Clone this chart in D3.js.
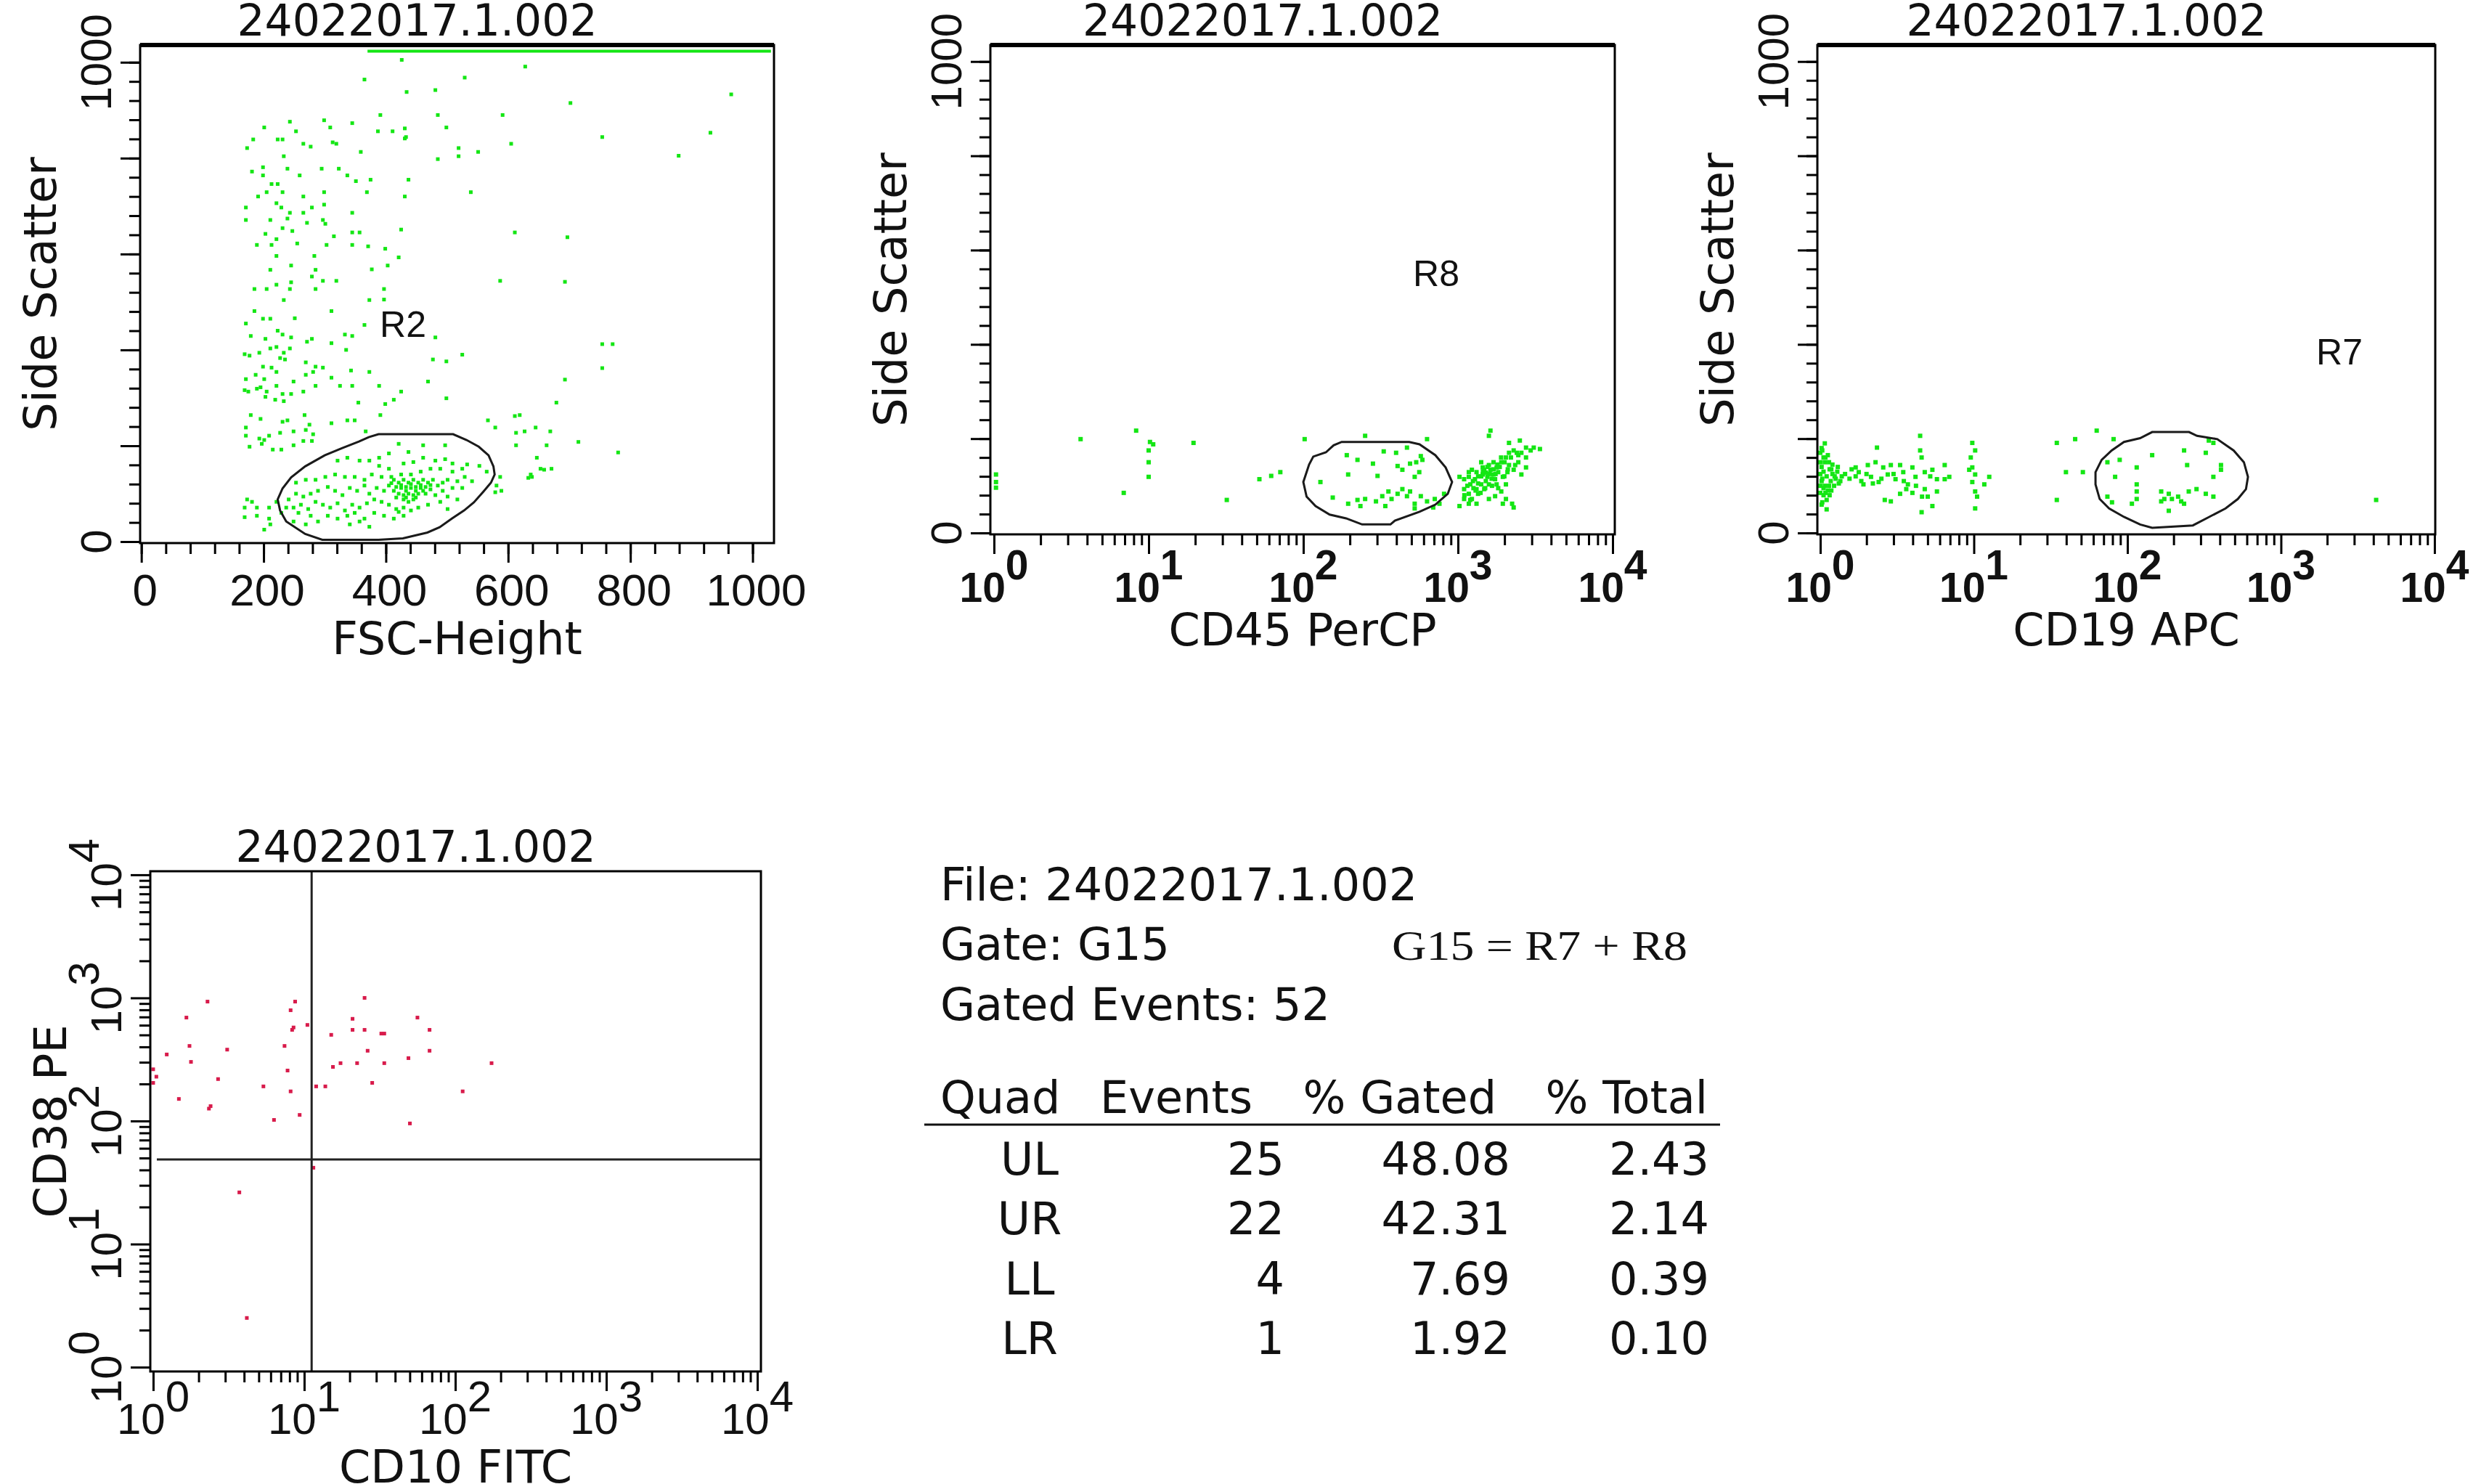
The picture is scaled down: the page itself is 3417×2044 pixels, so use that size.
<!DOCTYPE html>
<html>
<head>
<meta charset="utf-8">
<script src="https://cdn.jsdelivr.net/npm/d3@7"></script>
<style>
  body { margin: 0; background: #fff; overflow: hidden; }
  text { fill: #111; }
</style>
</head>
<body>
<div id="chart"></div>
<script>
// ---- data ----
var fileName = "24022017.1.002";

// panel 1: FSC-Height vs Side Scatter (linear channels)
var fscSsc = [
  [391,890],[485,890],[591,890],[243,876],[299,879],[201,864],[253,856],[309,864],[345,873],[387,856],[411,856],[431,862],[431,841],[499,864],[223,839],[231,839],[183,839],[313,833],[319,830],[265,830],[277,824],[173,821],[359,813],[233,804],[519,821],[519,804],[551,813],[605,830],[485,798],[433,844],
  [181,772],[199,781],[199,764],[239,778],[259,764],[295,778],[323,778],[337,764],[351,752],[375,755],[437,755],[213,746],[223,746],[205,729],[191,720],[231,729],[265,720],[299,729],[369,729],[431,720],[539,729],[221,706],[229,697],[243,686],[265,686],[279,697],[299,703],[345,686],[171,697],[171,671],[211,671],[239,674],[271,665],[297,671],[301,663],
  [231,654],[247,648],[203,642],[221,631],[315,637],[345,645],[357,645],[425,651],[611,645],[189,619],[213,619],[255,622],[303,619],[345,619],[371,616],[399,611],[421,593],[221,596],[283,596],[245,576],[211,567],[285,567],[377,568],[403,576],[279,553],[297,544],[319,544],[587,544],[185,527],[205,527],[221,536],[245,541],[243,527],[285,527],[397,527],[373,504],[397,505],[233,504],
  [185,481],[311,481],[171,455],[199,465],[211,465],[251,466],[365,452],[179,429],[203,423],[223,440],[231,432],[245,426],[271,417],[279,423],[311,414],[333,432],[345,429],[481,426],[169,391],[177,388],[193,394],[211,403],[221,406],[233,394],[243,403],[199,365],[213,363],[227,383],[235,380],[269,374],[285,365],[297,363],[335,400],[477,380],[499,376],[525,390],[171,339],[187,348],[201,339],[221,354],[249,334],[269,348],[281,354],[311,342],[343,357],[373,354],[469,334],
  [169,316],[175,313],[189,319],[195,322],[205,313],[221,325],[231,308],[203,302],[219,296],[233,293],[245,308],[265,313],[285,325],[325,325],[345,325],[389,325],[425,313],[355,290],[399,287],[413,296],[499,299],[679,290],[179,264],[195,256],[231,250],[239,253],[267,264],[275,244],[311,247],[337,253],[349,253],[391,264],[567,253],[579,238],[619,264],[171,238],[171,221],[193,215],[201,212],[209,221],[227,227],[249,230],[269,233],[281,224],[367,230],[613,227],[645,238],[627,230],[669,230],[177,198],[197,204],[215,192],[229,192],[249,201],[265,210],[279,210],
  [613,201],[663,201],[647,175],[671,152],[639,135],[587,135],[579,103],[541,126],[525,152],[497,201],[461,201],[437,187],[421,204],[405,184],[389,175],[373,169],[357,169],[337,175],[321,169],[389,158],[405,152],[429,163],[445,166],[461,175],[481,169],[497,172],[509,163],[533,161],[553,158],[565,146],[509,146],[489,152],[473,152],[457,146],[441,140],[425,140],[409,135],[393,135],[377,140],[365,129],[349,135],[333,135],[317,140],[301,135],[285,129],[269,129],[253,123],
  [413,129],[421,123],[429,129],[437,123],[445,129],[453,123],[461,129],[469,123],[477,129],[417,114],[425,112],[433,114],[441,112],[449,114],[457,112],[465,114],[473,109],[421,100],[429,97],[437,100],[445,97],[453,100],[429,88],[437,83],[445,88],[413,106],[405,117],[485,117],[493,123],[501,129],[517,126],[529,135],[493,106],[509,112],[525,112],[481,97],[501,94],[517,88],
  [425,118],[433,106],[441,120],[449,106],[457,118],[417,92],[433,92],[449,92],[465,100],[461,106],[409,122],[473,118],
  [397,106],[385,112],[373,100],[365,117],[353,106],[341,112],[329,97],[317,106],[305,114],[289,106],[277,100],[265,94],[253,100],[241,88],[249,71],[261,77],[273,68],[285,83],[297,77],[309,71],[321,80],[333,65],[345,77],[357,71],[369,80],[381,88],[393,83],[405,77],[417,68],[429,71],[441,65],[453,71],[469,77],[489,83],[501,68],[337,54],[349,60],[365,48],[381,60],[397,54],[413,48],[429,54],[321,48],[305,54],[289,42],[277,54],[257,60],[269,36],[249,42],[237,71],[229,60],[221,83],[209,71],[209,48],[211,36],[201,25],[189,54],[173,88],[181,83],[169,71],[169,51],[189,71],[341,36],[357,42],[373,31],[421,62],[581,117],[589,106],[637,140],[653,152],
  [365,964],[426,1005],[481,942],[529,968],[628,991],[702,915],[965,933],[434,938],[754,844],[931,853],[879,805],[697,635],[693,542],[754,412],[771,412],[754,362],[693,338],[715,208],[780,186],[633,133],[659,150],[611,262]
];
// events piled up on the top channel
var saturatedRuns = [[370, 1030]];
var saturatedLevel = 1023;
var gateR2 = [[388,224],[510,224],[532,212],[552,198],[568,180],[576,157],[578,140],[572,123],[560,105],[544,82],[528,65],[508,48],[488,30],[468,19],[428,7],[388,4],[296,4],[268,16],[237,42],[227,65],[223,88],[231,111],[245,134],[268,157],[300,180],[328,195],[356,209],[372,218]];
var labelR2 = [428, 455];

// panel 2: CD45 PerCP (log) vs Side Scatter
var cd45Ssc = [
  [1.03,124],[1.03,108],[1.03,96],[3.63,199],[8.3,217],[10.2,193],[10.7,188],[10,175],[10,150],[10,119],[19.5,191],[6.9,85],[32,70],[52,114],[62,121],[71,129],[102,199],[251,206],
  [191,165],[224,155],[282,147],[331,173],[398,170],[468,181],[575,163],[631,199],[407,142],[437,134],[490,147],[537,150],[589,155],[562,129],[525,119],
  [302,121],[195,124],[129,108],[155,75],[195,62],[224,70],[251,72],[295,67],[324,78],[355,88],[372,72],[407,83],[437,93],[468,78],[490,88],[525,62],[575,78],[631,67],[708,72],[759,62],[813,83],[525,52],[339,57],[234,57],[692,54],
  [1023,57],[1096,72],[1175,83],[1096,93],[1202,103],[1288,114],[1175,119],[1318,93],[1413,103],[1445,124],[1479,134],[1585,144],[1698,124],[1778,139],[1905,150],[1738,114],[1585,103],[1479,93],[1349,83],[1230,72],[2042,160],[2138,170],[2291,175],[2455,165],[2570,170],[2754,160],[2951,175],[3090,181],[3388,178],[2138,144],[2291,134],[2455,150],[2089,129],[1950,119],[1778,103],[1905,88],[1738,78],[2239,62],[2291,54],[1622,217],[1585,206],[2138,191],[2754,139],[2570,124],[1820,129],[1622,134],[1549,119],[1445,139],[1318,129],[1230,134],[1175,62],[1318,62],[1585,72],[2042,103],[2344,144],[2754,181],[2512,196],[1096,114],[1023,119],[1175,129],[1413,150],[2042,72],[1950,62],
  [1413,120],[1514,110],[1660,100],[1349,105],[1862,140],[1698,150],[1514,128],[1259,95],[1995,120],[1820,95],
  [1150,100],[1250,110],[1350,120],[1450,130],[1600,125],[1700,135],[1800,145],[1900,160],[2000,150],[2200,160],[2400,170],[1300,90],[1400,85],[1500,95],[1650,115],[1750,125],[1100,80],[1200,70],[1550,140],[2100,135]
];
var gateR8 = [[177,193],[484,193],[564,188],[714,165],[832,139],[916,108],[859,83],[714,60],[564,45],[391,26],[366,18],[240,18],[189,31],[148,39],[120,57],[105,77],[100,108],[109,145],[116,162],[140,171],[157,186]];
var labelR8 = [723, 552];

// panel 3: CD19 APC (log) vs Side Scatter
var cd19Ssc = [
  [1.02,180],[1.05,160],[1.02,140],[1.07,150],[1.05,130],[1.10,120],[1.02,110],[1.07,100],[1.12,90],[1.05,80],[1.10,70],[1.02,60],[1.15,135],[1.20,125],[1.17,110],[1.23,100],[1.26,115],[1.32,105],[1.12,165],[1.07,190],[1.15,80],[1.20,145],[1.29,130],[1.38,120],[1.05,95],[1.10,50],
  [1.0,170],[1.0,150],[1.0,125],[1.0,100],[1.0,85],[1.03,175],[1.03,115],[1.03,65],[1.08,160],[1.08,85],[1.14,150],[1.14,100],[1.18,135],[1.18,90],[1.24,120],[1.3,140],[1.35,110],[1.45,125],[1.55,115],[1.6,135],[1.7,120],[1.85,110],[2.0,125],[2.2,105],[2.5,115],[3.0,125],[3.5,110],[4.2,100],[5.2,120],
  [2.34,181],[4.47,206],[4.47,175],[4.57,160],[2.04,144],[2.29,150],[2.57,139],[2.88,144],[3.31,144],[3.47,129],[3.98,139],[4.17,119],[4.79,129],[5.37,134],[5.75,114],[6.46,144],[6.92,119],[3.09,114],[2.75,124],[2.40,108],[2.14,119],[1.91,103],[1.78,129],[1.70,139],[3.72,103],[4.79,93],[5.01,77],[5.75,88],[4.6,77],[5.37,57],[4.57,44],[2.88,67],[2.63,70],
  [9.77,191],[10.2,175],[9.55,160],[9.77,139],[10.2,124],[9.77,108],[10.2,88],[10.5,77],[10.2,52],[12.6,119],[11.7,103],[9.33,134],[3.31,83],[3.98,85],[3.63,93],[6.46,114],
  [34.7,191],[39.8,129],[34.7,70],[51.3,129],[63.1,217],[45.7,199],[81.3,199],
  [74.1,150],[89.1,155],[115,139],[145,165],[234,175],[245,144],[324,170],[339,196],[363,191],[407,144],[407,134],[363,119],[83.2,119],[115,103],[74.1,77],[115,88],[166,88],[186,83],[195,72],[224,67],[234,62],[214,77],[251,88],[282,93],[324,83],[363,77],[174,72],[166,67],[107,62],[115,72],[186,47],[79.4,65],
  [4169,70]
];
var gateR7 = [[145,214],[252,214],[284,206],[385,199],[492,175],[574,150],[610,119],[592,93],[524,72],[436,52],[341,34],[267,16],[145,11],[121,18],[95,34],[76,52],[66,72],[62,103],[62,129],[68,155],[79,175],[95,193],[121,201]];
var labelR7 = [2404, 385];

// panel 4: CD10 FITC vs CD38 PE, gated on G15
var cd10Cd38 = [
  [1.0,263],[1.0,204],[1.23,347],[1.48,151],[1.66,692],[1.74,407],[1.78,302],[2.29,933],[2.34,126],[2.4,132],[2.69,219],[3.09,380],[5.37,191],[6.31,102],[7.41,407],[7.76,257],[8.13,174],[8.32,550],[8.13,794],[8.71,933],[9.33,112],[10.5,603],[1.05,229],[8.5,575],
  [12.0,191],[13.8,191],[15.1,501],[15.5,275],[17.4,295],[20.9,676],[20.9,550],[22.4,295],[25.1,1000],[25.1,550],[26.3,372],[28.2,204],[32.4,513],[33.9,513],[33.9,295],[49,324],[50.1,95.5],[56.2,692],[67.6,550],[67.6,372],[112,174],[174,295],
  [3.72,26.3],[4.17,2.51],[11.5,41.7]
];
var quadCut = [11.2, 48.7];

// statistics block
var quadNames = ["UL", "UR", "LL", "LR"];
var quadEvents = [25, 22, 4, 1];
var quadPctGated = [48.08, 42.31, 7.69, 1.92];
var quadPctTotal = [2.43, 2.14, 0.39, 0.10];
var gateName = "G15";
var gatedEvents = 52;
var gateFormula = "G15 = R7 + R8";

// ---- drawing ----
var W = 3417, H = 2044;
var green = "#14e614", red = "#d81b4b";
var sansTitle = "DejaVu Sans", sansTick = "Liberation Sans";

var svg = d3.select("#chart").append("svg")
    .attr("width", W)
    .attr("height", H)
    .style("background", "#fff");

// linear channel ticks every 40, long ones every 200
var linMinor = d3.range(0, 1001, 40);
var linMajor = d3.range(0, 1001, 200);
var logMajor = [1, 10, 100, 1000, 10000];
var logMinor = [];
[1, 10, 100, 1000].forEach(function(d) {
    for (var k = 2; k < 10; k++) logMinor.push(d * k);
});

// frames in page pixels, and the visible channel range of each axis
var panels = [
    {box: [193, 62, 1066, 748], xType: "lin", yType: "lin", xDom: [-2, 1035], yDom: [-3, 1036],
     xTitle: "FSC-Height", yTitle: "Side Scatter", thickTop: true},
    {box: [1364, 62, 2224, 736], xType: "log", yType: "lin", xDom: [Math.pow(10, -0.0235), Math.pow(10, 4.014)], yDom: [-3, 1035],
     xTitle: "CD45 PerCP", yTitle: "Side Scatter", thickTop: true, boldLog: true},
    {box: [2503, 62, 3354, 736], xType: "log", yType: "lin", xDom: [Math.pow(10, -0.019), Math.pow(10, 4.005)], yDom: [-3, 1035],
     xTitle: "CD19 APC", yTitle: "Side Scatter", thickTop: true, boldLog: true},
    {box: [207, 1200, 1048, 1889], xType: "log", yType: "log", xDom: [Math.pow(10, -0.019), Math.pow(10, 4.024)], yDom: [Math.pow(10, -0.035), Math.pow(10, 4.029)],
     xTitle: "CD10 FITC", yTitle: "CD38 PE", thickTop: false, boldLog: false}
];

panels.forEach(function(p) {
    var l = p.box[0], t = p.box[1], r = p.box[2], b = p.box[3];
    p.x = (p.xType == "log" ? d3.scaleLog() : d3.scaleLinear()).domain(p.xDom).range([l, r]);
    p.y = (p.yType == "log" ? d3.scaleLog() : d3.scaleLinear()).domain(p.yDom).range([b, t]);
    p.g = svg.append("g");
});

function drawAxes(p) {
    var l = p.box[0], t = p.box[1], r = p.box[2], b = p.box[3];
    var g = p.g;
    var xMinor = p.xType == "log" ? logMinor : linMinor;
    var xMajor = p.xType == "log" ? logMajor : linMajor;
    var yMinor = p.yType == "log" ? logMinor : linMinor;
    var yMajor = p.yType == "log" ? logMajor : linMajor;

    [[xMinor, 15], [xMajor, 27]].forEach(function(s) {
        g.append("g")
            .attr("transform", "translate(0," + b + ")")
            .call(d3.axisBottom(p.x).tickValues(s[0]).tickSize(s[1]).tickSizeOuter(0).tickFormat(""))
            .call(function(a) { a.select(".domain").remove(); })
            .selectAll("line").attr("stroke", "#000").attr("stroke-width", 3);
    });
    [[yMinor, 15], [yMajor, 27]].forEach(function(s) {
        g.append("g")
            .attr("transform", "translate(" + l + ",0)")
            .call(d3.axisLeft(p.y).tickValues(s[0]).tickSize(s[1]).tickSizeOuter(0).tickFormat(""))
            .call(function(a) { a.select(".domain").remove(); })
            .selectAll("line").attr("stroke", "#000").attr("stroke-width", 3);
    });

    // frame
    g.append("rect")
        .attr("x", l).attr("y", t)
        .attr("width", r - l).attr("height", b - t)
        .attr("fill", "none").attr("stroke", "#000").attr("stroke-width", 3);
    if (p.thickTop) {
        g.append("line")
            .attr("x1", l).attr("x2", r).attr("y1", t).attr("y2", t)
            .attr("stroke", "#000").attr("stroke-width", 6);
    }

    // x tick labels
    if (p.xType == "lin") {
        g.append("g").selectAll("text")
            .data(linMajor)
            .enter().append("text")
            .attr("x", function(d) { return p.x(d) + 5; })
            .attr("y", b + 86)
            .attr("text-anchor", "middle")
            .style("font-family", sansTick)
            .style("font-size", "62px")
            .text(function(d) { return d; });
    } else {
        var xl = g.append("g").selectAll("text")
            .data(logMajor)
            .enter().append("text")
            .attr("x", function(d) { return p.x(d); })
            .attr("y", p.yType == "log" ? b + 86 : b + 93)
            .attr("text-anchor", "middle")
            .style("font-family", sansTick)
            .style("font-weight", p.boldLog ? "bold" : "normal")
            .style("font-size", p.boldLog ? "57px" : "60px");
        xl.append("tspan").text("10");
        xl.append("tspan").attr("dy", -31).text(function(d) { return Math.round(Math.log10(d)); });
    }

    // y tick labels, rotated
    var yLabs = p.yType == "log" ? logMajor : [0, 1000];
    var yl = g.append("g").selectAll("text")
        .data(yLabs)
        .enter().append("text")
        .attr("transform", function(d) { return "translate(" + (l - 40) + "," + p.y(d) + ") rotate(-90)"; })
        .attr("text-anchor", "middle")
        .style("font-family", sansTick)
        .style("font-size", "60px");
    if (p.yType == "log") {
        yl.append("tspan").text("10");
        yl.append("tspan").attr("dy", -31).text(function(d) { return Math.round(Math.log10(d)); });
    } else {
        yl.text(function(d) { return d; });
    }

    // titles
    g.append("text")
        .attr("x", (l + r) / 2 - 55)
        .attr("y", t - 13)
        .attr("text-anchor", "middle")
        .style("font-family", sansTitle)
        .style("font-size", "60px")
        .text(fileName);
    g.append("text")
        .attr("x", (l + r) / 2)
        .attr("y", b + 153)
        .attr("text-anchor", "middle")
        .style("font-family", sansTitle)
        .style("font-size", "62px")
        .text(p.xTitle);
    g.append("text")
        .attr("transform", "translate(" + (l - 116) + "," + ((t + b) / 2) + ") rotate(-90)")
        .attr("text-anchor", "middle")
        .style("font-family", sansTitle)
        .style("font-size", "62px")
        .text(p.yTitle);
}

function drawDots(p, data, color, size) {
    p.g.append("g").selectAll("rect")
        .data(data)
        .enter().append("rect")
        .attr("x", function(d) { return p.x(d[0]) - size / 2; })
        .attr("y", function(d) { return p.y(d[1]) - size / 2; })
        .attr("width", size)
        .attr("height", size)
        .attr("fill", color);
}

function drawGate(p, pts, label, name) {
    var line = d3.line()
        .x(function(d) { return p.x(d[0]); })
        .y(function(d) { return p.y(d[1]); })
        .curve(d3.curveLinearClosed);
    p.g.append("path")
        .attr("d", line(pts))
        .attr("fill", "none")
        .attr("stroke", "#1a1a1a")
        .attr("stroke-width", 3);
    p.g.append("text")
        .attr("x", p.x(label[0]))
        .attr("y", p.y(label[1]))
        .attr("dy", "0.36em")
        .attr("text-anchor", "middle")
        .style("font-family", sansTick)
        .style("font-size", "50px")
        .text(name);
}

// panel 1
var p1 = panels[0];
p1.g.append("g").selectAll("line")
    .data(saturatedRuns)
    .enter().append("line")
    .attr("x1", function(d) { return p1.x(d[0]); })
    .attr("x2", function(d) { return p1.x(d[1]); })
    .attr("y1", p1.y(saturatedLevel))
    .attr("y2", p1.y(saturatedLevel))
    .attr("stroke", green)
    .attr("stroke-width", 4);
drawDots(p1, fscSsc, green, 5);
drawGate(p1, gateR2, labelR2, "R2");

// panel 2
drawDots(panels[1], cd45Ssc, green, 6);
drawGate(panels[1], gateR8, labelR8, "R8");

// panel 3
drawDots(panels[2], cd19Ssc, green, 6);
drawGate(panels[2], gateR7, labelR7, "R7");

// panel 4 with quadrant cross
var p4 = panels[3];
drawDots(p4, cd10Cd38, red, 5);
p4.g.append("line")
    .attr("x1", p4.x(quadCut[0])).attr("x2", p4.x(quadCut[0]))
    .attr("y1", p4.box[1]).attr("y2", p4.box[3])
    .attr("stroke", "#222").attr("stroke-width", 3);
p4.g.append("line")
    .attr("x1", p4.box[0] + 9).attr("x2", p4.box[2])
    .attr("y1", p4.y(quadCut[1])).attr("y2", p4.y(quadCut[1]))
    .attr("stroke", "#222").attr("stroke-width", 3);

panels.forEach(drawAxes);

// statistics text
var stats = svg.append("g")
    .style("font-family", sansTitle)
    .style("font-size", "62px");

stats.append("text").attr("x", 1295).attr("y", 1240).text("File: " + fileName);
stats.append("text").attr("x", 1295).attr("y", 1322).text("Gate: " + gateName);
stats.append("text").attr("x", 1295).attr("y", 1405).text("Gated Events: " + gatedEvents);
stats.append("text")
    .attr("x", 1917).attr("y", 1322)
    .attr("textLength", 407)
    .attr("lengthAdjust", "spacingAndGlyphs")
    .style("font-family", "Liberation Serif")
    .style("font-size", "56px")
    .text(gateFormula);

// table header
var headers = [
    {t: "Quad", x: 1295, anchor: "start"},
    {t: "Events", x: 1725, anchor: "end"},
    {t: "% Gated", x: 2061, anchor: "end"},
    {t: "% Total", x: 2352, anchor: "end"}
];
stats.selectAll(".hdr")
    .data(headers)
    .enter().append("text")
    .attr("class", "hdr")
    .attr("x", function(d) { return d.x; })
    .attr("y", 1533)
    .attr("text-anchor", function(d) { return d.anchor; })
    .text(function(d) { return d.t; });
stats.append("line")
    .attr("x1", 1273).attr("x2", 2369)
    .attr("y1", 1549).attr("y2", 1549)
    .attr("stroke", "#111").attr("stroke-width", 3);

var rowY = d3.scalePoint().domain(quadNames).range([1618, 1865]);
var fmt2 = d3.format(".2f");
var rows = stats.selectAll(".row")
    .data(quadNames)
    .enter().append("g")
    .attr("class", "row");
rows.append("text")
    .attr("x", 1418).attr("y", function(d) { return rowY(d); })
    .attr("text-anchor", "middle")
    .text(function(d) { return d; });
rows.append("text")
    .attr("x", 1769).attr("y", function(d) { return rowY(d); })
    .attr("text-anchor", "end")
    .text(function(d, i) { return quadEvents[i]; });
rows.append("text")
    .attr("x", 2080).attr("y", function(d) { return rowY(d); })
    .attr("text-anchor", "end")
    .text(function(d, i) { return fmt2(quadPctGated[i]); });
rows.append("text")
    .attr("x", 2354).attr("y", function(d) { return rowY(d); })
    .attr("text-anchor", "end")
    .text(function(d, i) { return fmt2(quadPctTotal[i]); });
</script>
</body>
</html>
